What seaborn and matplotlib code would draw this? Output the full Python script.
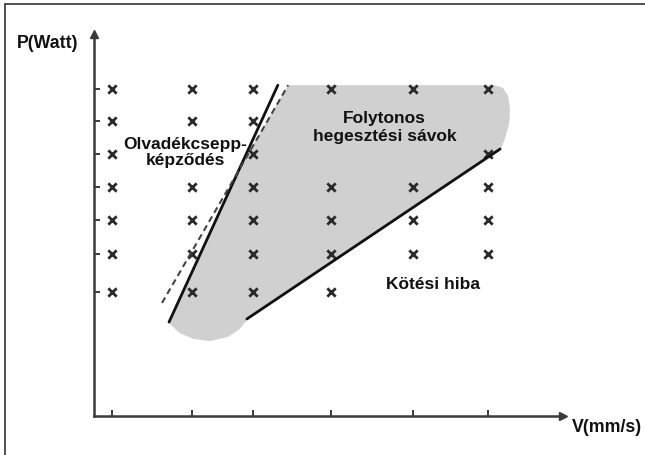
import numpy as np
import pandas as pd
import matplotlib
matplotlib.use("Agg")
import matplotlib.pyplot as plt
import seaborn as sns
from matplotlib.lines import Line2D

# Tested laser settings: welding speed levels and laser power levels
v_levels = [3.84, 20.9, 33.9, 50.5, 68.0, 84.0]
p_levels = [85.6, 77.2, 68.6, 59.9, 51.3, 42.4, 32.5]
# column indices of the tested speeds at each power level
tested_cols = [
    [0, 1, 2, 3, 4, 5],
    [0, 1, 2],
    [0, 2, 5],
    [0, 1, 2, 3, 4, 5],
    [0, 1, 2, 3, 4, 5],
    [0, 1, 2, 3, 4, 5],
    [0, 1, 2, 3],
]

# Process window outline (continuous weld tracks)
window_v = [41.4, 85.5, 87.2, 88.3, 88.7, 88.5, 87.6, 86.6, 32.6, 31.1,
            28.6, 24.7, 21.1, 18.3, 16.0, 30.9]
window_p = [86.6, 86.6, 85.9, 83.8, 80.4, 76.4, 72.5, 69.6, 25.1, 22.8,
            20.7, 19.6, 20.2, 21.7, 24.3, 64.7]

# Boundary lines
balling_v = [16.0, 39.2]
balling_p = [24.6, 86.6]
balling_alt_v = [14.5, 41.4]
balling_alt_p = [29.6, 86.6]
lof_v = [32.6, 86.6]
lof_p = [25.4, 69.9]

labels = {
    "balling": "Olvadékcsepp-\nképződés",
    "window": "Folytonos\nhegesztési sávok",
    "lof": "Kötési hiba",
}
label_pos = {
    "balling": (19.4, 69.2),
    "window": (62.0, 75.8),
    "lof": (72.3, 34.8),
}

sns.set_theme(style="white")
plt.rcParams["font.family"] = ["Liberation Sans", "DejaVu Sans"]

W, H = 645, 456
fig = plt.figure(figsize=(W / 100, H / 100), dpi=100)
ax = fig.add_axes([94 / W, (H - 417) / H, (563 - 94) / W, (417 - 35) / H])
ax.set_xlim(0, 100)
ax.set_ylim(0, 100)

axis_col = "#3a3a3a"
ink = "#111111"

# shaded process window
ax.fill(window_v, window_p, color="#d0d0d0", lw=0, zorder=1)

# tested points
pts = pd.DataFrame(
    [(v_levels[c], p) for p, cols in zip(p_levels, tested_cols) for c in cols],
    columns=["V", "P"],
)
sns.scatterplot(data=pts, x="V", y="P", marker="x", s=36, color="#2a2a2a",
                linewidth=2.0, ax=ax, zorder=3, legend=False)

# boundary lines
sns.lineplot(x=balling_v, y=balling_p, color=ink, lw=2.0, ax=ax,
             estimator=None, sort=False, zorder=4)
sns.lineplot(x=balling_alt_v, y=balling_alt_p, color="#444444", lw=1.5,
             ax=ax, estimator=None, sort=False, zorder=4, dashes=False,
             linestyle=(0, (3, 2)))
sns.lineplot(x=lof_v, y=lof_p, color=ink, lw=2.0, ax=ax,
             estimator=None, sort=False, zorder=4)

# axes: only left and bottom with arrow heads
for s in ("top", "right"):
    ax.spines[s].set_visible(False)
for s in ("left", "bottom"):
    ax.spines[s].set_color(axis_col)
    ax.spines[s].set_linewidth(1.8)
ax.set_xticks(v_levels)
ax.set_yticks(p_levels)
ax.set_xticklabels([])
ax.set_yticklabels([])
ax.tick_params(direction="in", length=4, width=1.4, color=axis_col,
               bottom=True, left=True)
ax.plot(1, 0, ">", transform=ax.transAxes, clip_on=False, ms=6,
        color=axis_col, zorder=5)
ax.plot(0, 1, "^", transform=ax.transAxes, clip_on=False, ms=6,
        color=axis_col, zorder=5)
ax.set_xlabel("")
ax.set_ylabel("")

# region labels
fs = 12.5
ax.text(*label_pos["balling"], labels["balling"], ha="center", va="center",
        fontsize=fs, fontweight="bold", color=ink, linespacing=1.1, zorder=6)
ax.text(*label_pos["window"], labels["window"], ha="center", va="center",
        fontsize=fs, fontweight="bold", color=ink, linespacing=1.2, zorder=6)
ax.text(*label_pos["lof"], labels["lof"], ha="center", va="center",
        fontsize=fs, fontweight="bold", color=ink, zorder=6)

# axis titles
fig.text(48 / W, 1 - 44 / H, "P(Watt)", ha="center", va="center",
         fontsize=12.8, fontweight="bold", color=ink)
fig.text(607 / W, 1 - 428 / H, "V(mm/s)", ha="center", va="center",
         fontsize=12.8, fontweight="bold", color=ink)

# outer frame (left and top edges)
fig.add_artist(Line2D([5 / W, 5 / W], [0, 1 - 5 / H], transform=fig.transFigure,
                      color="#333333", lw=1.2))
fig.add_artist(Line2D([5 / W, 1], [1 - 5 / H, 1 - 5 / H],
                      transform=fig.transFigure, color="#333333", lw=1.2))

fig.savefig("out.png", dpi=100, facecolor="white")
